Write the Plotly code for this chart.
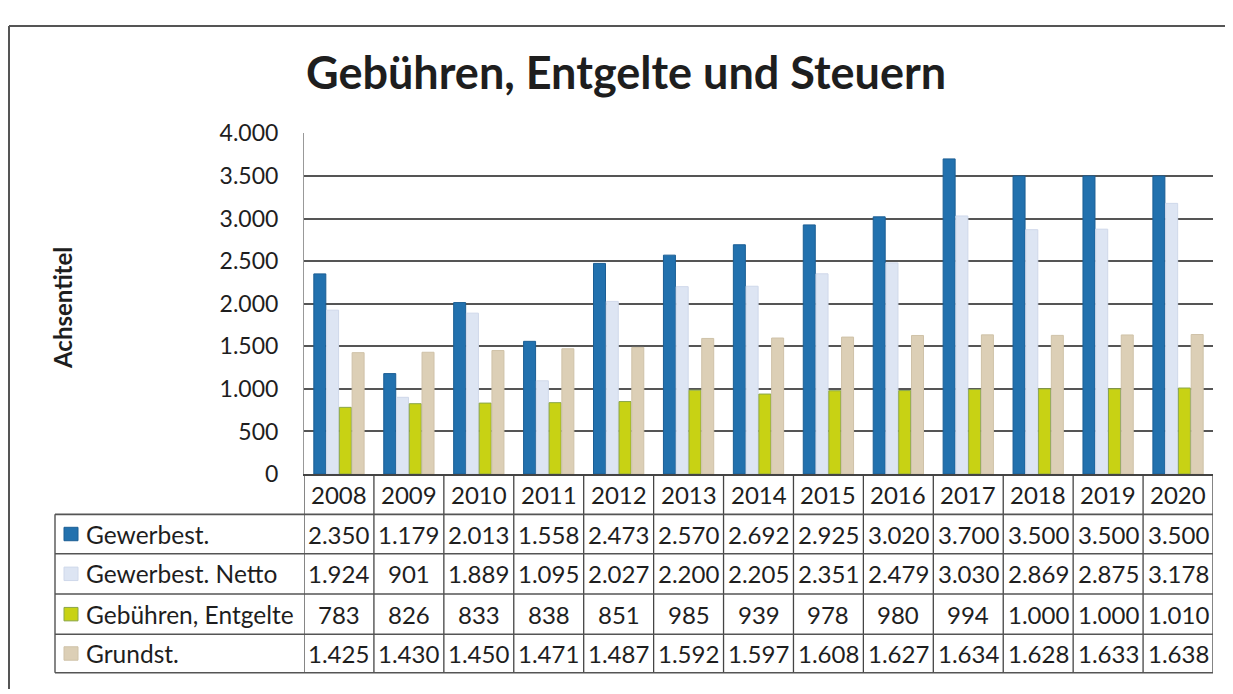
import plotly.graph_objects as go

# ---- data ----
years = [2008, 2009, 2010, 2011, 2012, 2013, 2014, 2015, 2016, 2017, 2018, 2019, 2020]
series_names = ["Gewerbest.", "Gewerbest. Netto", "Gebühren, Entgelte", "Grundst."]
gewerbest = [2350, 1179, 2013, 1558, 2473, 2570, 2692, 2925, 3020, 3700, 3500, 3500, 3500]
gewerbest_netto = [1924, 901, 1889, 1095, 2027, 2200, 2205, 2351, 2479, 3030, 2869, 2875, 3178]
gebuehren = [783, 826, 833, 838, 851, 985, 939, 978, 980, 994, 1000, 1000, 1010]
grundst = [1425, 1430, 1450, 1471, 1487, 1592, 1597, 1608, 1627, 1634, 1628, 1633, 1638]
y_ticks = [0, 500, 1000, 1500, 2000, 2500, 3000, 3500, 4000]

title_text = "Gebühren, Entgelte und Steuern"
y_title = "Achsentitel"

# ---- style ----
colors = ["#2271ae", "#dde5f3", "#c8d214", "#dccfb6"]
edge = ["#1b5e94", "#cfd8ea", "#8aa64a", "#cfc2a8"]
W, H = 1233, 694
OFF = 8  # page body margin
FONT = "Lato"
TXT = "#1e1e1e"
GRID = "#555555"


def px(x):
    return (x - OFF) / W


def py(y):
    return 1 - (y - OFF) / H


plot_l, plot_r = 304, 1213
plot_t, plot_b = 123, 478
row_lines = [520, 561, 603, 645, 685]
table_l = 55


def de(v):
    return f"{v:,}".replace(",", ".")


all_series = [gewerbest, gewerbest_netto, gebuehren, grundst]

fig = go.Figure()
for name, vals, c, e in zip(series_names, all_series, colors, edge):
    fig.add_trace(go.Bar(x=years, y=vals, name=name, marker_color=c,
                         marker_line_color=e, marker_line_width=1, showlegend=False))

shapes = []
annotations = []

# outer frame of the scanned chart
shapes.append(dict(type="line", xref="paper", yref="paper", x0=px(9), x1=1, y0=py(11), y1=py(11),
                   line=dict(color="#555", width=2)))
shapes.append(dict(type="line", xref="paper", yref="paper", x0=px(9), x1=px(9), y0=py(11), y1=0,
                   line=dict(color="#555", width=2)))

# table vertical lines (column boundaries)
for i in range(len(years) + 1):
    xb = years[0] - 0.5 + i
    shapes.append(dict(type="line", xref="x", yref="paper", x0=xb, x1=xb,
                       y0=py(plot_b), y1=py(row_lines[-1]), line=dict(color="#444", width=1.3)))
# left table border
shapes.append(dict(type="line", xref="paper", yref="paper", x0=px(table_l), x1=px(table_l),
                   y0=py(row_lines[0]), y1=py(row_lines[-1]), line=dict(color="#444", width=1.3)))
# horizontal table lines
for yl in row_lines:
    shapes.append(dict(type="line", xref="paper", yref="paper", x0=px(table_l), x1=px(plot_r),
                       y0=py(yl), y1=py(yl), line=dict(color="#555", width=1.6)))

# header years
for yr in years:
    annotations.append(dict(x=yr, y=py((plot_b + row_lines[0]) / 2), xref="x", yref="paper",
                            text=str(yr), showarrow=False, xanchor="center", yanchor="middle",
                            font=dict(family=FONT, size=24, color=TXT)))

# rows
for r, (name, vals, c, e) in enumerate(zip(series_names, all_series, colors, edge)):
    yc = (row_lines[r] + row_lines[r + 1]) / 2
    shapes.append(dict(type="rect", xref="paper", yref="paper", x0=px(64), x1=px(78),
                       y0=py(yc + 7), y1=py(yc - 7), fillcolor=c, line=dict(color=e, width=1)))
    annotations.append(dict(x=px(84), y=py(yc), xref="paper", yref="paper", text=name,
                            showarrow=False, xanchor="left", yanchor="middle",
                            font=dict(family=FONT, size=24.5, color=TXT)))
    for yr, v in zip(years, vals):
        annotations.append(dict(x=yr, y=py(yc), xref="x", yref="paper", text=de(v),
                                showarrow=False, xanchor="center", yanchor="middle",
                                font=dict(family=FONT, size=24, color=TXT)))

# title
annotations.append(dict(x=px(626), y=py(59), xref="paper", yref="paper", text=f"<b>{title_text}</b>",
                        showarrow=False, xanchor="center", yanchor="middle",
                        font=dict(family=FONT, size=45, color=TXT)))
# y axis title
annotations.append(dict(x=px(62), y=py(305), xref="paper", yref="paper", text=f"<b>{y_title}</b>",
                        showarrow=False, xanchor="center", yanchor="middle", textangle=-90,
                        font=dict(family=FONT, size=24, color=TXT)))

fig.update_layout(
    width=W, height=H,
    margin=dict(l=0, r=0, t=0, b=0),
    paper_bgcolor="white", plot_bgcolor="white",
    separators=",.",
    barmode="group", bargap=0.27, bargroupgap=0.06,
    shapes=shapes, annotations=annotations,
    xaxis=dict(domain=[px(plot_l), px(plot_r)], range=[years[0] - 0.5, years[-1] + 0.5],
               showticklabels=False, showgrid=False, zeroline=False,
               showline=True, linecolor="#444", linewidth=1.5, ticks=""),
    yaxis=dict(domain=[py(plot_b), py(plot_t)], range=[0, 4000], tickvals=y_ticks,
               tickformat=",d", showgrid=True, gridcolor=GRID, gridwidth=1.6,
               zeroline=False, showline=True, linecolor="#999", linewidth=1,
               ticks="", ticklabelstandoff=20,
               tickfont=dict(family=FONT, size=23, color=TXT)),
)

fig.write_html("out.html")
